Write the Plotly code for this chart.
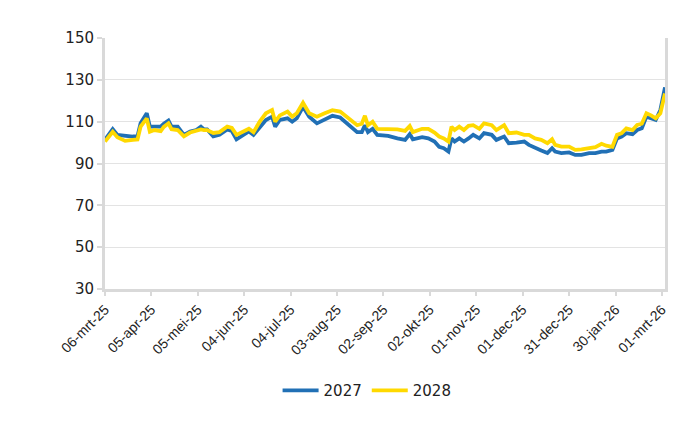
import plotly.graph_objects as go

dates = [
    "2025-03-06", "2025-03-09", "2025-03-11", "2025-03-14", "2025-03-19", "2025-03-24", "2025-03-27",
    "2025-03-29", "2025-04-02", "2025-04-04", "2025-04-07", "2025-04-11", "2025-04-13", "2025-04-16",
    "2025-04-18", "2025-04-22", "2025-04-26", "2025-04-30", "2025-05-04", "2025-05-07", "2025-05-09",
    "2025-05-11", "2025-05-15", "2025-05-19", "2025-05-24", "2025-05-27", "2025-05-30", "2025-06-03",
    "2025-06-07", "2025-06-10", "2025-06-14", "2025-06-18", "2025-06-22", "2025-06-24", "2025-06-27",
    "2025-07-02", "2025-07-05", "2025-07-08", "2025-07-12", "2025-07-16", "2025-07-21", "2025-07-26",
    "2025-07-31", "2025-08-05", "2025-08-08", "2025-08-12", "2025-08-16", "2025-08-19", "2025-08-21",
    "2025-08-23", "2025-08-26", "2025-08-29", "2025-09-05", "2025-09-11", "2025-09-16", "2025-09-19",
    "2025-09-21", "2025-09-27", "2025-10-01", "2025-10-05", "2025-10-08", "2025-10-11", "2025-10-14",
    "2025-10-16", "2025-10-18", "2025-10-21", "2025-10-24", "2025-10-27", "2025-10-30", "2025-11-03",
    "2025-11-06", "2025-11-11", "2025-11-14", "2025-11-19", "2025-11-22", "2025-11-27", "2025-12-02",
    "2025-12-05", "2025-12-09", "2025-12-13", "2025-12-17", "2025-12-20", "2025-12-22", "2025-12-26",
    "2025-12-31", "2026-01-04", "2026-01-08", "2026-01-13", "2026-01-17", "2026-01-21", "2026-01-24",
    "2026-01-28", "2026-01-31", "2026-02-03", "2026-02-06", "2026-02-10", "2026-02-13", "2026-02-16",
    "2026-02-19", "2026-02-22", "2026-02-25", "2026-02-28", "2026-03-03",
]

values_2027 = [
    101.3, 104.0, 106.4, 103.7, 103.2, 102.9, 103.0,
    109.2, 114.0, 107.6, 107.6, 107.6, 109.0, 110.5,
    107.6, 107.6, 103.7, 105.3, 106.0, 107.6, 106.3,
    106.3, 103.0, 103.7, 106.3, 105.5, 101.6, 103.7,
    105.3, 103.7, 107.6, 110.8, 112.4, 107.6, 110.8,
    111.6, 110.0, 111.6, 117.1, 112.4, 109.2, 110.8,
    112.8, 112.0, 110.0, 107.6, 105.0, 105.0, 108.3,
    105.0, 106.6, 103.7, 103.2, 102.0, 101.3, 104.1,
    101.6, 102.6, 102.0, 100.5, 98.0, 97.3, 95.7,
    102.0, 100.5, 102.0, 100.5, 102.0, 103.7, 102.0,
    104.5, 103.7, 101.3, 102.9, 99.7, 100.0, 100.5,
    98.9, 97.3, 96.2, 95.0, 97.3, 95.7, 95.0,
    95.3, 94.1, 94.1, 95.0, 95.0, 95.7, 95.7,
    96.5, 102.0, 102.9, 104.5, 104.0, 106.0, 106.8,
    112.4, 111.5, 110.8, 115.6, 126.4,
]

values_2028 = [
    100.5, 103.0, 105.2, 102.6, 100.8, 101.3, 101.5,
    107.6, 111.6, 105.2, 106.0, 105.5, 107.5, 109.2,
    106.4, 106.0, 103.0, 104.8, 105.8, 106.3, 106.0,
    106.0, 104.6, 105.0, 107.6, 107.0, 103.7, 105.0,
    106.6, 105.0, 110.0, 114.0, 115.6, 110.0, 113.0,
    114.8, 112.4, 114.0, 119.0, 114.0, 112.4, 114.0,
    115.5, 114.8, 113.0, 110.8, 108.3, 109.0, 112.8,
    108.3, 110.0, 106.6, 106.6, 106.3, 105.6, 107.9,
    105.0, 106.6, 106.6, 104.8, 102.9, 102.0, 100.5,
    107.6, 106.0, 107.6, 106.0, 108.0, 108.3, 106.6,
    109.2, 108.3, 106.0, 108.3, 104.5, 104.8, 103.7,
    103.7, 102.0, 101.3, 99.7, 101.6, 98.9, 98.1,
    98.1, 96.5, 96.8, 97.3, 97.8, 99.4, 98.5,
    98.0, 103.7, 104.5, 106.8, 106.0, 108.4, 109.0,
    114.0, 113.0, 111.6, 114.0, 123.5,
]

tick_dates = [
    "2025-03-06", "2025-04-05", "2025-05-05", "2025-06-04", "2025-07-04", "2025-08-03",
    "2025-09-02", "2025-10-02", "2025-11-01", "2025-12-01", "2025-12-31", "2026-01-30", "2026-03-01",
]
tick_labels = [
    "06-mrt-25", "05-apr-25", "05-mei-25", "04-jun-25", "04-jul-25", "03-aug-25",
    "02-sep-25", "02-okt-25", "01-nov-25", "01-dec-25", "31-dec-25", "30-jan-26", "01-mrt-26",
]

series_names = ["2027", "2028"]
colors = ["#2170B5", "#FFD900"]

fig = go.Figure()
for name, vals, col in zip(series_names, [values_2027, values_2028], colors):
    fig.add_trace(go.Scatter(
        x=dates, y=vals, mode="lines", name=name,
        line=dict(color=col, width=3.8),
    ))

font_family = "Liberation Sans, Arial, sans-serif"
wide_family = "DejaVu Sans, Verdana, sans-serif"
fig.update_layout(
    width=700, height=430,
    margin=dict(l=97, r=43, t=30, b=149),
    paper_bgcolor="white", plot_bgcolor="white",
    font=dict(family=font_family, size=15, color="#222222"),
    showlegend=True,
    legend=dict(
        orientation="h", x=0.468, xanchor="center", y=-0.405, yanchor="middle",
        font=dict(family=wide_family, size=15, color="#222222"),
        itemwidth=36,
    ),
)
fig.update_xaxes(
    type="date", automargin=False,
    range=["2025-03-06", "2026-03-03"],
    tickvals=tick_dates, ticktext=tick_labels, tickangle=-45,
    tickfont=dict(size=14, color="#222222"),
    showgrid=False,
    showline=True, linecolor="#D9D9D9", linewidth=3,
    ticks="outside", ticklen=4, tickcolor="#D9D9D9", tickwidth=2,
)
fig.update_yaxes(
    automargin=False,
    range=[30, 150], tickvals=[30, 50, 70, 90, 110, 130, 150],
    tickfont=dict(family=wide_family, size=15, color="#222222"),
    showgrid=True, gridcolor="#E3E3E3", gridwidth=1,
    showline=True, linecolor="#D9D9D9", linewidth=3, mirror=True,
    ticks="outside", ticklen=5, tickcolor="#D9D9D9", tickwidth=2,
    zeroline=False,
)

fig.write_html("out.html")
